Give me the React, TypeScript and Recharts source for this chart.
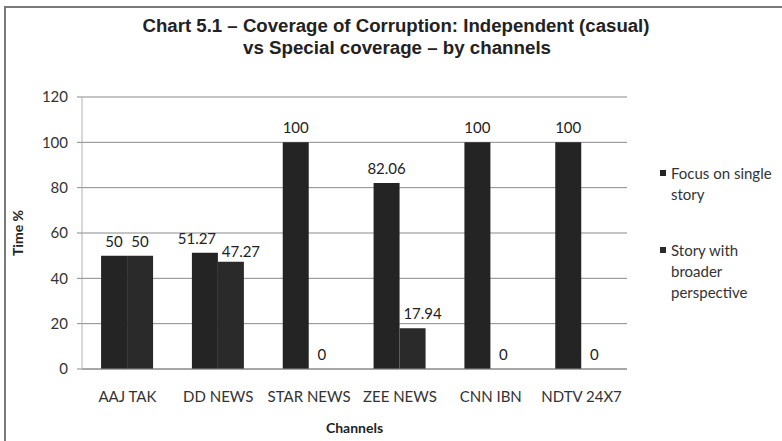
import React from 'react';
import { BarChart, Bar, XAxis, YAxis, CartesianGrid, LabelList } from 'recharts';

const channels = ['AAJ TAK', 'DD NEWS', 'STAR NEWS', 'ZEE NEWS', 'CNN IBN', 'NDTV 24X7'];
const focusSingle = [50, 51.27, 100, 82.06, 100, 100];
const broaderPerspective = [50, 47.27, 0, 17.94, 0, 0];
const yTicks = [0, 20, 40, 60, 80, 100, 120];
const seriesNames = ['Focus on single story', 'Story with broader perspective'];
const seriesColors = ['#242424', '#2a2a2a'];
const titleLines = [
  'Chart 5.1 – Coverage of Corruption: Independent (casual)',
  'vs Special coverage – by channels',
];
const xTitle = 'Channels';
const yTitle = 'Time %';

const data = channels.map((c, i) => ({
  channel: c,
  focus: focusSingle[i],
  broader: broaderPerspective[i],
}));

const FONT = 'Lato, "Open Sans", sans-serif';

const makeLabel = (seriesIdx: number) => (props: any) => {
  const { x, y, width, value, index } = props;
  const own = seriesIdx === 0 ? focusSingle[index] : broaderPerspective[index];
  const other = seriesIdx === 0 ? broaderPerspective[index] : focusSingle[index];
  const wide = String(value).length > 2;
  const close = own !== other && Math.abs(own - other) < 8;
  let dx = 0;
  let dy = 0;
  if (seriesIdx === 0 && own > other && close) {
    dx = -8;
  }
  if (seriesIdx === 1 && other > own && wide) {
    dx = 10;
    if (close) dy = 4;
  }
  return (
    <text
      x={Number(x) + Number(width) / 2 + dx}
      y={Number(y) - 9 + dy}
      textAnchor="middle"
      fontFamily={FONT}
      fontSize={15}
      fill="#222"
    >
      {value}
    </text>
  );
};

const YLabel = (props: any) => {
  const { viewBox } = props;
  const cx = viewBox.x + 9;
  const cy = viewBox.y + viewBox.height / 2;
  return (
    <text
      x={cx}
      y={cy}
      transform={`rotate(-90, ${cx}, ${cy})`}
      textAnchor="middle"
      dominantBaseline="central"
      fontFamily={FONT}
      fontWeight="bold"
      fontSize={14}
      fill="#222"
    >
      {yTitle}
    </text>
  );
};

export default function App() {
  return (
    <div
      style={{
        position: 'absolute',
        left: 0,
        top: 0,
        width: 782,
        height: 441,
        overflow: 'hidden',
        background: '#fff',
      }}
    >
      <div
        style={{
          position: 'absolute',
          left: 4,
          top: 6,
          width: 820,
          height: 480,
          border: '2px solid #7a7a7a',
        }}
      />
      <svg style={{ position: 'absolute', left: 0, top: 0 }} width={782} height={70}>
        <text
          x={396}
          y={32}
          textAnchor="middle"
          fontFamily='"Liberation Sans", Arial, sans-serif'
          fontWeight="bold"
          fontSize={18}
          fill="#222"
          textLength={507}
          lengthAdjust="spacingAndGlyphs"
        >
          {titleLines[0]}
        </text>
        <text
          x={397}
          y={54}
          textAnchor="middle"
          fontFamily='"Liberation Sans", Arial, sans-serif'
          fontWeight="bold"
          fontSize={18}
          fill="#222"
          textLength={308}
          lengthAdjust="spacingAndGlyphs"
        >
          {titleLines[1]}
        </text>
      </svg>
      <div style={{ position: 'absolute', left: 0, top: 0 }}>
        <BarChart
          width={782}
          height={441}
          data={data}
          margin={{ top: 97, right: 155, bottom: 0, left: 8 }}
          barCategoryGap="21%"
          barGap={0}
        >
          <CartesianGrid vertical={false} stroke="#8a8a8a" strokeWidth={1} />
          <XAxis
            dataKey="channel"
            height={72}
            tickLine={false}
            axisLine={{ stroke: '#8a8a8a' }}
            tickMargin={16}
            tick={{ fontFamily: FONT, fontSize: 15, fill: '#333' }}
            interval={0}
            label={{
              value: xTitle,
              position: 'insideBottom',
              offset: 8,
              fontFamily: FONT,
              fontWeight: 'bold',
              fontSize: 14,
              fill: '#222',
            }}
          />
          <YAxis
            width={74}
            domain={[0, 120]}
            ticks={yTicks}
            interval={0}
            tickSize={5}
            tickMargin={9}
            tickLine={{ stroke: '#8a8a8a' }}
            axisLine={{ stroke: '#b0b0b0' }}
            tick={{ fontFamily: FONT, fontSize: 15, fill: '#333' }}
            label={<YLabel />}
          />
          <Bar
            dataKey="focus"
            name={seriesNames[0]}
            fill={seriesColors[0]}
            minPointSize={0.01}
            isAnimationActive={false}
          >
            <LabelList dataKey="focus" content={makeLabel(0)} />
          </Bar>
          <Bar
            dataKey="broader"
            name={seriesNames[1]}
            fill={seriesColors[1]}
            minPointSize={0.01}
            isAnimationActive={false}
          >
            <LabelList dataKey="broader" content={makeLabel(1)} />
          </Bar>
        </BarChart>
      </div>
      <div
        style={{
          position: 'absolute',
          left: 660,
          top: 163,
          width: 120,
          fontFamily: FONT,
          fontSize: 15,
          lineHeight: '21px',
          color: '#333',
        }}
      >
        {seriesNames.map((n, i) => (
          <div key={n} style={{ display: 'flex', alignItems: 'flex-start', marginBottom: 35 }}>
            <div
              style={{
                width: 6,
                height: 6,
                background: seriesColors[i],
                marginTop: 7,
                marginRight: 5,
                flex: 'none',
              }}
            />
            <div style={{ width: 108 }}>{n}</div>
          </div>
        ))}
      </div>
    </div>
  );
}
